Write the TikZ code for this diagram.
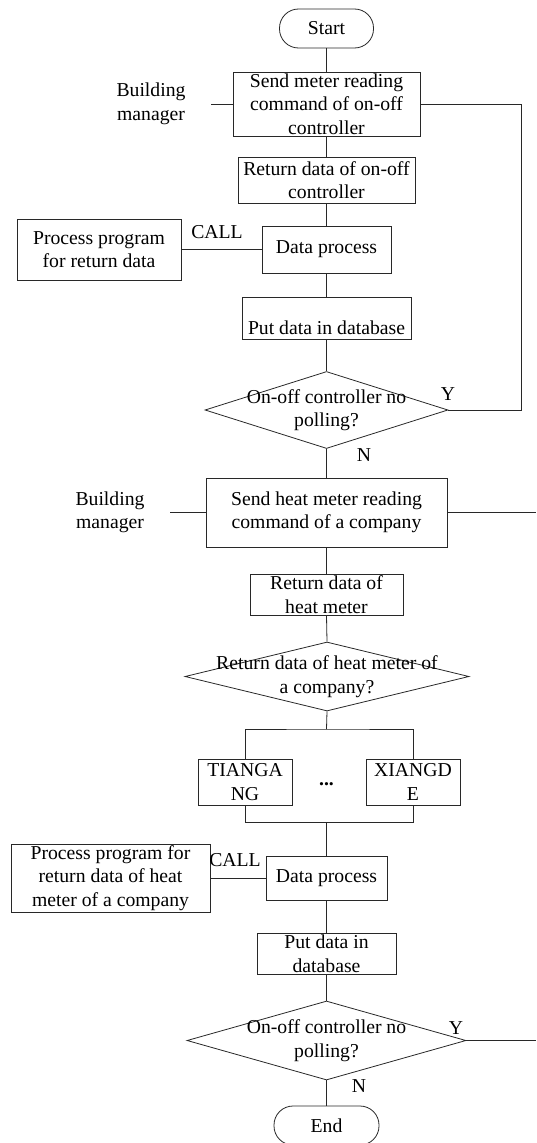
\documentclass[tikz,border=0pt]{standalone}
\usepackage{fontspec}
\setmainfont{Liberation Serif}
\usetikzlibrary{shapes.geometric, positioning, calc}
\definecolor{linecolor}{RGB}{40, 40, 40}

\begin{document}
\begin{tikzpicture}[
    x=1pt, y=-1pt,
    % Node styles
    block/.style={
        rectangle,
        draw=linecolor,
        line width=0.8pt,
        inner sep=0pt,
        align=center,
        font=\fontsize{19.7}{23.5}\selectfont
    },
    terminal/.style={
        block,
        rounded corners=19pt,
        minimum width=2.2cm
    },
    decision/.style={
        diamond,
        draw=linecolor,
        line width=0.8pt,
        inner sep=0pt
    },
    % Line style
    link/.style={
        line width=0.8pt,
        color=linecolor
    },
    % Plain text
    note/.style={
        align=center,
        inner sep=0pt,
        font=\fontsize{19.7}{23.5}\selectfont
    }
]
\useasboundingbox (0,0) rectangle (536,1143);

% ===== FIRST LOOP: ON-OFF CONTROLLER =====

\node[terminal, minimum width=94pt, minimum height=39pt] (start) at (326.5, 28.5) {Start};

\node[block, minimum width=187pt, minimum height=64pt] (sendctl) at (326.5, 104) {
    Send meter reading\\
    command of on-off\\
    controller
};

\node[block, minimum width=177pt, minimum height=46pt] (retctl) at (326.5, 180) {
    Return data of on-off\\
    controller
};

\node[block, minimum width=129pt, minimum height=47pt] (procctl) at (326.5, 249.5) {Data process};

\node[block, minimum width=164pt, minimum height=61pt] (progctl) at (99, 249.5) {
    Process program\\
    for return data
};

\node[block, minimum width=169pt, text height=37pt, text depth=5pt] (dbctl) at (326.5, 318) {Put data in database};

\node[decision, minimum width=243pt, minimum height=77pt,
    label={[note]center:On-off controller no\\polling?}] (pollctl) at (326.5, 410) {};

% ===== SECOND LOOP: HEAT METER =====

\node[block, minimum width=241pt, minimum height=69pt] (sendheat) at (326.5, 512.5) {
    Send heat meter reading\\
    command of a company
};

\node[block, minimum width=153pt, minimum height=41pt] (retheat) at (326.5, 594.5) {
    Return data of\\
    heat meter
};

\node[decision, minimum width=284pt, minimum height=69pt,
    label={[note]center:Return data of heat meter of\\a company?}] (company) at (327, 676.5) {};

\node[block, minimum width=94pt, minimum height=46pt] (tiangang) at (245, 782) {
    TIANGA\\
    NG
};
\node[block, minimum width=94pt, minimum height=46pt] (xiangde) at (413, 782) {
    XIANGD\\
    E
};
\node[note] (dots) at (326.5, 784) {\textbf{...}};

\node[block, minimum width=121pt, minimum height=44pt] (procheat) at (326.5, 878) {Data process};

\node[block, minimum width=199pt, minimum height=68pt] (progheat) at (110.5, 878) {
    Process program for\\
    return data of heat\\
    meter of a company
};

\node[block, minimum width=139pt, minimum height=41pt] (dbheat) at (326.5, 953.5) {
    Put data in\\
    database
};

\node[decision, minimum width=279pt, minimum height=79pt,
    label={[note]center:On-off controller no\\polling?}] (pollheat) at (326.5, 1040.5) {};

\node[terminal, minimum width=105pt, minimum height=39pt] (end) at (326.5, 1125.5) {End};

% ===== SIDE LABELS =====

\node[note] (mgrctl) at (151, 104) {Building\\manager};
\node[note] (mgrheat) at (110, 512.5) {Building\\manager};
\node[note] (callctl) at (217, 232) {CALL};
\node[note] (callheat) at (235, 860) {CALL};
\node[note] (yesctl) at (448, 394) {Y};
\node[note] (noctl) at (364, 455) {N};
\node[note] (yesheat) at (456, 1028) {Y};
\node[note] (noheat) at (359, 1086) {N};

% ===== HELPER POINTS =====

\coordinate (mgrctlend) at (211, 104);
\coordinate (mgrheatend) at (170, 512.5);
\coordinate (loopctl) at (521, 104);
\coordinate (outheat) at (536, 512.5);
\coordinate (outpoll) at (536, 1040.5);
\coordinate (split) at (326.5, 729);
\coordinate (merge) at (326.5, 822);

% ===== CONNECTORS =====

\draw[link] (start.south) -- (sendctl.north);
\draw[link] (sendctl.south) -- (retctl.north);
\draw[link] (retctl.south) -- (procctl.north);
\draw[link] (procctl.south) -- (dbctl.north);
\draw[link] (dbctl.south) -- (pollctl.north);
\draw[link] (pollctl.south) -- (sendheat.north);
\draw[link] (progctl.east) -- (procctl.west);
\draw[link] (mgrctlend) -- (sendctl.west);
\draw[link] (sendctl.east) -- (loopctl) |- (pollctl.east);

\draw[link] (sendheat.south) -- (retheat.north);
\draw[link] (retheat.south) -- (company.north);
\draw[link] (mgrheatend) -- (sendheat.west);
\draw[link] (sendheat.east) -- (outheat);
\draw[link] (company.south) -- (split);
\draw[link] (tiangang.north) |- (split) -| (xiangde.north);
\draw[link] (tiangang.south) |- (merge) -| (xiangde.south);
\draw[link] (merge) -- (procheat.north);
\draw[link] (progheat.east) -- (procheat.west);
\draw[link] (procheat.south) -- (dbheat.north);
\draw[link] (dbheat.south) -- (pollheat.north);
\draw[link] (pollheat.east) -- (outpoll);
\draw[link] (pollheat.south) -- (end.north);

\end{tikzpicture}
\end{document}
